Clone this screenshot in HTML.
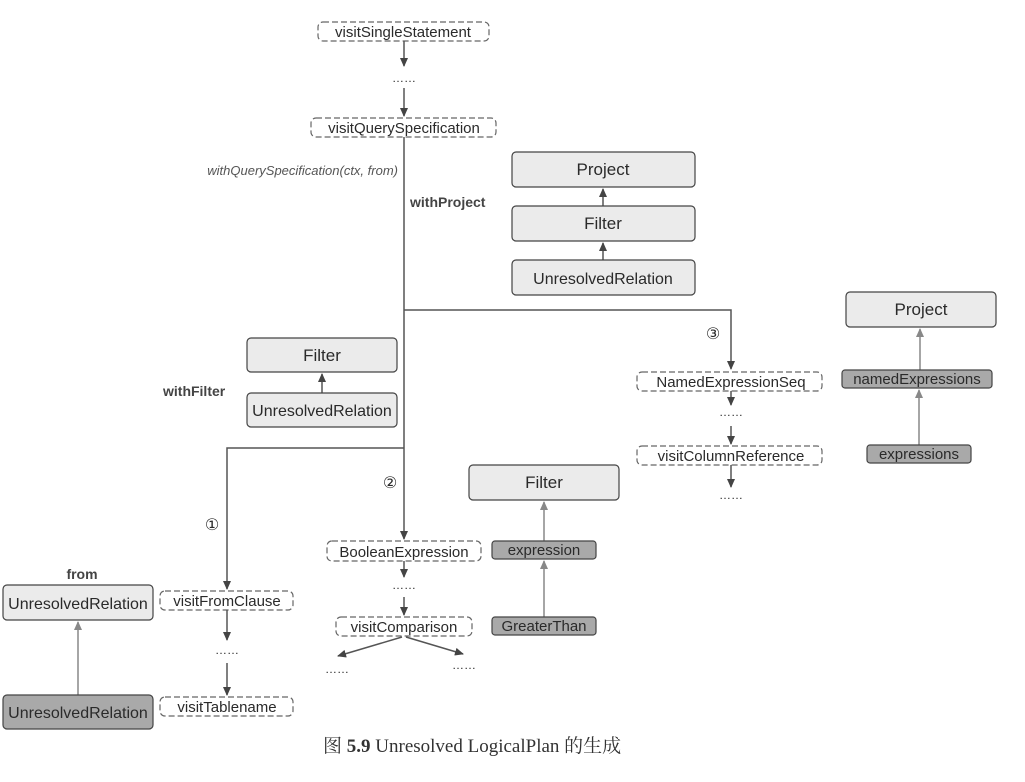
<!DOCTYPE html>
<html><head><meta charset="utf-8"><style>
html,body{margin:0;padding:0;background:#fff;}
svg{display:block;}
text{font-family:"Liberation Sans","DejaVu Sans",sans-serif;fill:#2a2a2a;}
.d{fill:#fff;stroke:#666;stroke-width:1.2;stroke-dasharray:6,3;}
.l{fill:#ebebeb;stroke:#444;stroke-width:1.2;}
.k{fill:#a9a9a9;stroke:#444;stroke-width:1.2;}
.ln{stroke:#555;stroke-width:1.5;fill:none;}
.lg{stroke:#888;stroke-width:1.5;fill:none;}
</style></head><body>
<svg width="1025" height="782" viewBox="0 0 1025 782" xmlns="http://www.w3.org/2000/svg">
<defs>
<marker id="a" markerWidth="10" markerHeight="10" refX="8" refY="5" orient="auto" markerUnits="userSpaceOnUse"><path d="M0,1 L9,5 L0,9 z" fill="#444"/></marker>
<marker id="g" markerWidth="10" markerHeight="10" refX="8" refY="5" orient="auto" markerUnits="userSpaceOnUse"><path d="M0,1 L9,5 L0,9 z" fill="#888"/></marker>
</defs>

<rect class="d" x="318" y="22" width="171" height="19" rx="5"/>
<text x="403" y="37" font-size="15" text-anchor="middle">visitSingleStatement</text>
<line class="ln" x1="404" y1="41" x2="404" y2="66" marker-end="url(#a)"/>
<text x="404" y="82" font-size="12" text-anchor="middle">……</text>
<line class="ln" x1="404" y1="88" x2="404" y2="116" marker-end="url(#a)"/>
<rect class="d" x="311" y="118" width="185" height="19" rx="5"/>
<text x="404" y="133" font-size="15" text-anchor="middle">visitQuerySpecification</text>
<text x="398" y="175" font-size="13" font-style="italic" text-anchor="end" style="fill:#555">withQuerySpecification(ctx, from)</text>
<text x="410" y="207" font-size="14" font-weight="bold" style="fill:#444">withProject</text>

<line class="ln" x1="404" y1="137" x2="404" y2="448"/>
<polyline class="ln" points="404,310 731,310 731,369" marker-end="url(#a)"/>
<text x="713" y="339" font-size="16" text-anchor="middle">③</text>

<rect class="l" x="512" y="152" width="183" height="35" rx="4"/>
<text x="603" y="175" font-size="17" text-anchor="middle">Project</text>
<line class="ln" x1="603" y1="206" x2="603" y2="189" marker-end="url(#a)"/>
<rect class="l" x="512" y="206" width="183" height="35" rx="4"/>
<text x="603" y="229" font-size="17" text-anchor="middle">Filter</text>
<line class="ln" x1="603" y1="260" x2="603" y2="243" marker-end="url(#a)"/>
<rect class="l" x="512" y="260" width="183" height="35" rx="4"/>
<text x="603" y="284" font-size="16" text-anchor="middle">UnresolvedRelation</text>

<text x="163" y="396" font-size="14" font-weight="bold" style="fill:#444">withFilter</text>
<rect class="l" x="247" y="338" width="150" height="34" rx="4"/>
<text x="322" y="361" font-size="17" text-anchor="middle">Filter</text>
<line class="ln" x1="322" y1="393" x2="322" y2="374" marker-end="url(#a)"/>
<rect class="l" x="247" y="393" width="150" height="34" rx="4"/>
<text x="322" y="416" font-size="16" text-anchor="middle">UnresolvedRelation</text>

<polyline class="ln" points="404,448 227,448 227,589" marker-end="url(#a)"/>
<text x="212" y="530" font-size="16" text-anchor="middle">①</text>
<line class="ln" x1="404" y1="448" x2="404" y2="539" marker-end="url(#a)"/>
<text x="390" y="488" font-size="16" text-anchor="middle">②</text>

<rect class="d" x="637" y="372" width="185" height="19" rx="5"/>
<text x="731" y="387" font-size="15" text-anchor="middle">NamedExpressionSeq</text>
<line class="ln" x1="731" y1="391" x2="731" y2="405" marker-end="url(#a)"/>
<text x="731" y="416" font-size="12" text-anchor="middle">……</text>
<line class="ln" x1="731" y1="426" x2="731" y2="444" marker-end="url(#a)"/>
<rect class="d" x="637" y="446" width="185" height="19" rx="5"/>
<text x="731" y="461" font-size="15" text-anchor="middle">visitColumnReference</text>
<line class="ln" x1="731" y1="465" x2="731" y2="487" marker-end="url(#a)"/>
<text x="731" y="499" font-size="12" text-anchor="middle">……</text>

<rect class="l" x="846" y="292" width="150" height="35" rx="4"/>
<text x="921" y="315" font-size="17" text-anchor="middle">Project</text>
<line class="lg" x1="920" y1="370" x2="920" y2="329" marker-end="url(#g)"/>
<rect class="k" x="842" y="370" width="150" height="18" rx="3"/>
<text x="917" y="384" font-size="15" text-anchor="middle">namedExpressions</text>
<line class="lg" x1="919" y1="445" x2="919" y2="390" marker-end="url(#g)"/>
<rect class="k" x="867" y="445" width="104" height="18" rx="3"/>
<text x="919" y="459" font-size="15" text-anchor="middle">expressions</text>

<rect class="l" x="469" y="465" width="150" height="35" rx="4"/>
<text x="544" y="488" font-size="17" text-anchor="middle">Filter</text>
<line class="lg" x1="544" y1="541" x2="544" y2="502" marker-end="url(#g)"/>
<rect class="k" x="492" y="541" width="104" height="18" rx="3"/>
<text x="544" y="555" font-size="15" text-anchor="middle">expression</text>
<line class="lg" x1="544" y1="617" x2="544" y2="561" marker-end="url(#g)"/>
<rect class="k" x="492" y="617" width="104" height="18" rx="3"/>
<text x="544" y="631" font-size="15" text-anchor="middle">GreaterThan</text>

<rect class="d" x="327" y="541" width="154" height="20" rx="5"/>
<text x="404" y="557" font-size="15" text-anchor="middle">BooleanExpression</text>
<line class="ln" x1="404" y1="561" x2="404" y2="577" marker-end="url(#a)"/>
<text x="404" y="589" font-size="12" text-anchor="middle">……</text>
<line class="ln" x1="404" y1="597" x2="404" y2="615" marker-end="url(#a)"/>
<rect class="d" x="336" y="617" width="136" height="19" rx="5"/>
<text x="404" y="632" font-size="15" text-anchor="middle">visitComparison</text>
<line class="ln" x1="402" y1="637" x2="338" y2="656" marker-end="url(#a)"/>
<line class="ln" x1="406" y1="637" x2="463" y2="654" marker-end="url(#a)"/>
<text x="337" y="673" font-size="12" text-anchor="middle">……</text>
<text x="464" y="669" font-size="12" text-anchor="middle">……</text>

<text x="82" y="579" font-size="14" font-weight="bold" text-anchor="middle" style="fill:#444">from</text>
<rect class="l" x="3" y="585" width="150" height="35" rx="4"/>
<text x="78" y="609" font-size="16" text-anchor="middle">UnresolvedRelation</text>
<line class="lg" x1="78" y1="695" x2="78" y2="622" marker-end="url(#g)"/>
<rect class="k" x="3" y="695" width="150" height="34" rx="4"/>
<text x="78" y="718" font-size="16" text-anchor="middle">UnresolvedRelation</text>
<rect class="d" x="160" y="591" width="133" height="19" rx="5"/>
<text x="227" y="606" font-size="15" text-anchor="middle">visitFromClause</text>
<line class="ln" x1="227" y1="610" x2="227" y2="640" marker-end="url(#a)"/>
<text x="227" y="654" font-size="12" text-anchor="middle">……</text>
<line class="ln" x1="227" y1="663" x2="227" y2="695" marker-end="url(#a)"/>
<rect class="d" x="160" y="697" width="133" height="19" rx="5"/>
<text x="227" y="712" font-size="15" text-anchor="middle">visitTablename</text>

<text x="323" y="752" font-size="19" style="font-family:'Liberation Serif','Noto Serif CJK SC',serif;fill:#333">图 <tspan font-weight="bold">5.9</tspan>    Unresolved LogicalPlan 的生成</text>
</svg>
</body></html>
